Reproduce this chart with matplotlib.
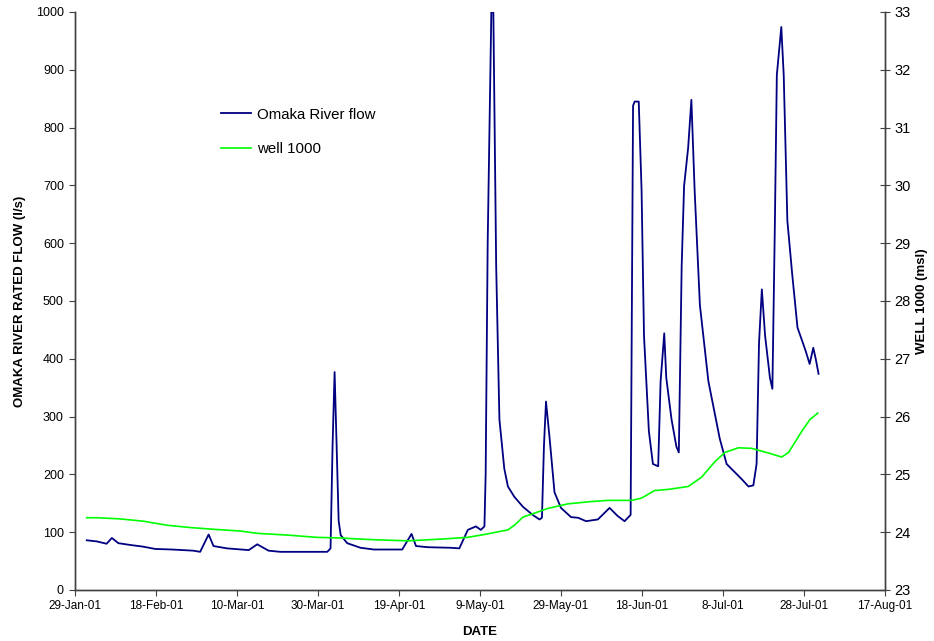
import datetime as dt
import matplotlib
matplotlib.use("Agg")
import matplotlib.pyplot as plt
from matplotlib.ticker import FixedLocator, FuncFormatter, MultipleLocator
import matplotlib.dates as mdates

plt.rcParams["font.family"] = ["Liberation Sans", "DejaVu Sans"]

start = dt.datetime(2001, 1, 29)

# Omaka River flow (l/s), day offsets from 29-Jan-01
flow_day = [2.9, 5.4, 7.8, 9.1, 10.7, 13.5, 16.8, 19.8, 24, 29.2, 30.9, 33, 34.2, 37.5,
            42.9, 45, 47.8, 50.7, 62.3, 63.1, 63.6, 64.1, 64.6, 65.1, 65.6, 67.2, 70.5,
            73.8, 80.8, 83.1, 84.2, 87.1, 92.8, 94.9, 97, 99, 100.2, 101.1, 101.4, 101.9,
            102.8, 103.3, 104.0, 104.8, 106, 106.9, 108.5, 110.6, 113, 114.7, 115.3, 115.8,
            116.3, 117.2, 118.4, 120, 122.5, 124.2, 126.2, 129.1, 132, 134, 135.7, 137.2,
            137.8, 138.2, 139.2, 139.9, 140.5, 141.7, 142.7, 144, 144.6, 145.5, 146, 147.3,
            148.5, 149.1, 149.8, 150.4, 151.4, 152.2, 153, 154.3, 156.4, 159.2, 160.9,
            164.6, 166.3, 167.5, 168.3, 168.9, 169.6, 170.4, 171.6, 172.2, 172.8, 173.3,
            174.4, 175, 175.9, 177.1, 178.4, 180.4, 181.4, 182.3, 182.9, 183.6]
flow_val = [86, 84, 80, 90, 81, 78, 75, 71, 70, 68, 66, 96, 76, 72,
            69, 79, 68, 66, 66, 72, 250, 377, 250, 120, 95, 81, 73,
            70, 70, 97, 76, 74, 73, 72, 104, 110, 104, 110, 200, 600,
            1000, 1000, 560, 295, 210, 179, 161, 144, 130, 122, 125, 250,
            326, 262, 169, 142, 126, 125, 119, 122, 142, 128, 119, 130,
            838, 845, 845, 692, 440, 275, 218, 214, 361, 444, 367, 295,
            248, 238, 560, 699, 765, 848, 692, 493, 361, 262, 218,
            192, 179, 181, 218, 427, 520, 440, 367, 348, 626, 891,
            974, 891, 639, 546, 454, 414, 391, 419, 400, 374]

# well 1000 level (msl)
well_day = [2.9, 5.4, 11.1, 16.9, 22.7, 28.5, 34.2, 40.8, 45, 52.4, 59.8, 65.6, 70.5,
            73.8, 82.1, 90.3, 96.9, 101.1, 106.9, 108.5, 110.6, 113.5, 116.7, 121.7,
            127.5, 131.6, 137.5, 139.9, 143.1, 146.5, 151.4, 154.7, 158, 160.5, 163.8,
            167.1, 171.2, 174.5, 176.2, 179.5, 181.5, 183.4]
well_val = [24.25, 24.25, 24.23, 24.19, 24.12, 24.08, 24.05, 24.02, 23.98, 23.95, 23.91,
            23.90, 23.88, 23.87, 23.85, 23.88, 23.91, 23.96, 24.04, 24.12, 24.26, 24.33,
            24.41, 24.49, 24.53, 24.55, 24.55, 24.59, 24.72, 24.74, 24.79, 24.95, 25.22,
            25.38, 25.46, 25.45, 25.37, 25.30, 25.38, 25.75, 25.95, 26.06]

tick_days = [0, 20, 40, 60, 80, 100, 120, 140, 160, 180, 200]

flow_dates = [start + dt.timedelta(days=d) for d in flow_day]
well_dates = [start + dt.timedelta(days=d) for d in well_day]
tick_dates = [mdates.date2num(start + dt.timedelta(days=d)) for d in tick_days]

fig = plt.figure(figsize=(9.34, 6.41), dpi=100)
ax = fig.add_axes([0.0803, 0.0796, 0.8672, 0.9017])
ax2 = ax.twinx()

l1, = ax.plot(flow_dates, flow_val, color="#000080", linewidth=1.3, label="Omaka River flow")
l2, = ax2.plot(well_dates, well_val, color="#00ff00", linewidth=1.2, label="well 1000")

ax.set_xlim(tick_dates[0], tick_dates[-1])
ax.set_ylim(0, 1000)
ax2.set_ylim(23, 33)

ax.yaxis.set_major_locator(MultipleLocator(100))
ax2.yaxis.set_major_locator(MultipleLocator(1))
ax.xaxis.set_major_locator(FixedLocator(tick_dates))
ax.xaxis.set_major_formatter(FuncFormatter(
    lambda x, pos: "{}-{}".format(mdates.num2date(x).day, mdates.num2date(x).strftime("%b-%y"))))

for a in (ax, ax2):
    a.spines["top"].set_visible(False)
    for s in a.spines.values():
        s.set_color("#404040")
        s.set_linewidth(1.0)
ax.tick_params(axis="x", direction="out", length=4, labelsize=8.5, color="#404040", pad=3)
ax.tick_params(axis="y", direction="out", length=4, labelsize=9, color="#404040", pad=4)
ax2.tick_params(axis="y", direction="inout", length=7, labelsize=10.5, color="#404040", pad=3)

ax.set_xlabel("DATE", fontsize=9.5, fontweight="bold", labelpad=10)
ax.set_ylabel("OMAKA RIVER RATED FLOW (l/s)", fontsize=9.5, fontweight="bold", labelpad=7)
ax2.set_ylabel("WELL 1000 (msl)", fontsize=9.5, fontweight="bold", labelpad=4)

ax.legend(handles=[l1, l2], loc="upper left", bbox_to_anchor=(0.164, 0.858), frameon=False,
          fontsize=10.8, handlelength=2.0, handletextpad=0.35, labelspacing=1.35)

fig.savefig("out.png", dpi=100)
plt.close(fig)
